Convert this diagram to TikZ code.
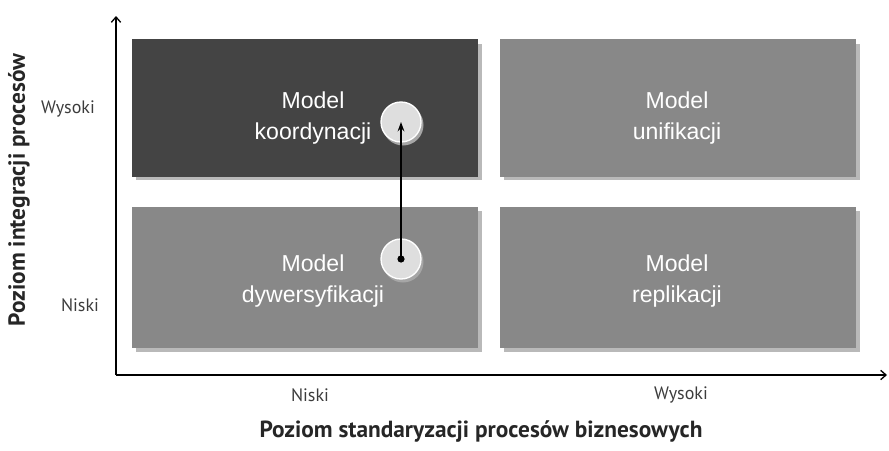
\documentclass[tikz,border=0pt]{standalone}
\usepackage{fontspec}
\setmainfont{Liberation Sans}
\newfontfamily\labfont{PT Sans}
\usetikzlibrary{positioning,arrows.meta}
\tikzset{every picture/.style={line width=0.75pt}}
\definecolor{darkbox}{RGB}{68,68,68}
\definecolor{midbox}{RGB}{136,136,136}
\definecolor{boxshade}{RGB}{185,185,185}
\definecolor{dotfill}{RGB}{222,222,222}
\definecolor{labgray}{RGB}{60,60,60}
\tikzset{
  quad/.style={minimum width=259.5pt,minimum height=103pt,inner sep=0pt,
    text=white,align=center,font=\fontsize{17.3}{23}\selectfont},
  marker/.style={circle,fill=dotfill,minimum size=30pt,inner sep=0pt,
    draw=white,line width=1pt},
  ticklab/.style={text=labgray,font=\labfont\fontsize{13.5}{16}\selectfont,inner sep=0.75pt},
  axistitle/.style={text=black!85,font=\labfont\bfseries\fontsize{17.5}{20}\selectfont,inner sep=0.75pt}
}
\begin{document}
\begin{tikzpicture}[x=0.75pt,y=0.75pt,yscale=-1,xscale=1]
\useasboundingbox (0,0) rectangle (889,450);

%Axes
\coordinate (origin) at (116,375);
\coordinate (ytop) at (116,16);
\coordinate (xend) at (887,375);
\draw [line width=1pt,-{Straight Barb[length=4pt,width=7pt]}] (origin) -- (ytop);
\draw [line width=1pt,-{Straight Barb[length=4pt,width=7pt]}] (origin) -- (xend);

%Shadows
\fill [boxshade] (136,44) rectangle (482,180);
\fill [boxshade] (504,44) rectangle (860,180);
\fill [boxshade] (136,211) rectangle (482,352);
\fill [boxshade] (504,211) rectangle (860,352);

%Quadrants
\node (koord) [quad,fill=darkbox] at (305,108) {};
\node (unif) [quad,fill=midbox,minimum width=267pt] at (678,108) {};
\node (dywers) [quad,fill=midbox,minimum height=105.75pt] at (305,277.5) {};
\node (repl) [quad,fill=midbox,minimum width=267pt,minimum height=105.75pt] at (678,277.5) {};

% Text Node
\node (koordtxt) [quad,minimum width=0pt,minimum height=0pt] at (313,118) {Model\\koordynacji};
% Text Node
\node (uniftxt) [quad,minimum width=0pt,minimum height=0pt] at (677,118) {Model\\unifikacji};
% Text Node
\node (dywerstxt) [quad,minimum width=0pt,minimum height=0pt] at (313,281) {Model\\dywersyfikacji};
% Text Node
\node (repltxt) [quad,minimum width=0pt,minimum height=0pt] at (677,281) {Model\\replikacji};

%Markers
\fill [black!35] (403,125) circle (20.5);
\fill [black!35] (403,262) circle (20.5);
\node (high) [marker] at (401,122) {};
\node (low) [marker] at (401,259) {};
\draw [line width=1.3pt,-{Stealth[length=7pt,width=5pt]}] (low.center) -- (high.center);
\fill (low.center) circle (3.6);

% Tick labels
\node (yhigh) [ticklab] at (68,109) {Wysoki};
\node (ylow) [ticklab] at (80,305) {Niski};
\node (xlow) [ticklab] at (310,395) {Niski};
\node (xhigh) [ticklab] at (681,395) {Wysoki};

% Axis titles
\node (ytitle) [axistitle,rotate=90] at (19,190) {Poziom integracji procesów};
\node (xtitle) [axistitle] at (481,432) {Poziom standaryzacji procesów biznesowych};

\end{tikzpicture}
\end{document}
